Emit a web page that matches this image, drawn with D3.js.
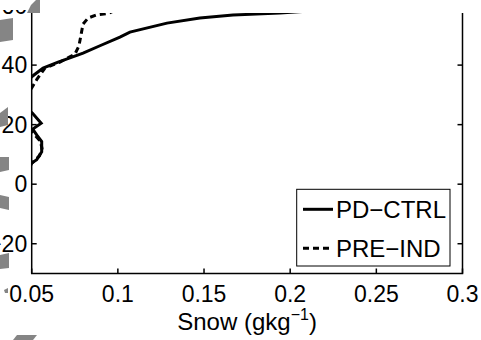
<!DOCTYPE html>
<html>
<head>
<meta charset="utf-8">
<script src="https://cdn.jsdelivr.net/npm/d3@7"></script>
<style>
    body { margin: 0; background: #fff; }
    svg { display: block; font-family: "Liberation Sans", Arial, sans-serif; }
</style>
</head>
<body>
<div id="chart-div"></div>
<script>
const seriesNames = ["PD\u2212CTRL", "PRE\u2212IND"];

// snow mixing ratio (g/kg) against height level
const pdSnow = [0.040, 0.043, 0.047, 0.0529, 0.0558, 0.0558, 0.053, 0.0506, 0.0555, 0.0505,
    0.046, 0.044, 0.048, 0.050, 0.0566, 0.0653, 0.0722, 0.0798, 0.0896, 0.1012, 0.107,
    0.1285, 0.1476, 0.1668, 0.194, 0.22];
const pdHeight = [-30, 0, 6, 8.2, 10.9, 14.3, 16.5, 18.5, 20.5, 23.8,
    26, 30, 34.5, 36.1, 39.0, 41.0, 42.4, 44.0, 46.5, 49.4, 51.1,
    54.1, 55.8, 56.8, 57.5, 58.5];

const piSnow = [0.040, 0.044, 0.050, 0.0545, 0.056, 0.055, 0.051, 0.046, 0.044, 0.047,
    0.050, 0.0531, 0.0577, 0.0664, 0.0751, 0.0774, 0.0786, 0.0798, 0.0827, 0.0873, 0.094, 0.099];
const piHeight = [-30, 0, 7, 9.5, 12, 14.5, 17, 20, 26, 30,
    32.3, 35.3, 39.0, 41.0, 43.7, 46.4, 50.1, 53.8, 55.8, 56.8, 57.3, 58.5];

const xTicks = [0.05, 0.1, 0.15, 0.2, 0.25, 0.3];
const xTickLabels = ["0.05", "0.1", "0.15", "0.2", "0.25", "0.3"];
const yTicks = [-20, 0, 20, 40, 60];
const yTickLabels = ["\u221220", "0", "20", "40", "60"];

function snowChart() {
    let width = 481,
        height = 340,
        margin = {left: 31.7, right: 18.5, top: 13, bottom: 66.5};

    function chart(selection) {
        const svg = selection.append("svg")
            .attr("width", width)
            .attr("height", height);

        const x = d3.scaleLinear()
            .domain([0.05, 0.3])
            .range([margin.left, width - margin.right]);

        const y = d3.scaleLinear()
            .domain([-30, 57.5])
            .range([height - margin.bottom, margin.top]);

        const [x0, x1] = x.range();
        const [y1, y0] = y.range();

        svg.append("clipPath").attr("id", "plot-clip")
            .append("rect")
            .attr("x", x0).attr("y", y0)
            .attr("width", x1 - x0).attr("height", y1 - y0);

        const line = d3.line()
            .x(d => x(d[0]))
            .y(d => y(d[1]));

        const series = [
            {name: seriesNames[0], dash: null, points: d3.zip(pdSnow, pdHeight)},
            {name: seriesNames[1], dash: "6,4", points: d3.zip(piSnow, piHeight)}
        ];

        svg.append("g")
            .attr("clip-path", "url(#plot-clip)")
            .selectAll("path")
            .data(series)
            .enter()
            .append("path")
            .attr("d", d => line(d.points))
            .attr("fill", "none")
            .attr("stroke", "#000")
            .attr("stroke-width", 3)
            .attr("stroke-dasharray", d => d.dash);

        // axes: left, right and bottom lines, ticks pointing inwards
        const axes = svg.append("g")
            .attr("stroke", "#000")
            .attr("stroke-width", 1.5)
            .attr("fill", "none");

        axes.append("path")
            .attr("d", `M${x0},${y0}V${y1}H${x1}V${y0}`);

        xTicks.forEach(t => {
            axes.append("line")
                .attr("x1", x(t)).attr("x2", x(t))
                .attr("y1", y1).attr("y2", y1 - 5);
        });

        yTicks.filter(t => t > y.domain()[0] && t < y.domain()[1]).forEach(t => {
            axes.append("line")
                .attr("x1", x0).attr("x2", x0 + 5)
                .attr("y1", y(t)).attr("y2", y(t));
            axes.append("line")
                .attr("x1", x1).attr("x2", x1 - 5)
                .attr("y1", y(t)).attr("y2", y(t));
        });

        svg.append("g")
            .selectAll("text")
            .data(xTicks)
            .enter()
            .append("text")
            .attr("x", d => x(d))
            .attr("y", y1 + 28.5)
            .attr("text-anchor", "middle")
            .attr("font-size", 23)
            .text((d, i) => xTickLabels[i]);

        svg.append("g")
            .selectAll("text")
            .data(yTicks)
            .enter()
            .append("text")
            .attr("x", x0 - 4.5)
            .attr("y", d => y(d))
            .attr("dy", "0.36em")
            .attr("text-anchor", "end")
            .attr("font-size", 23)
            .text((d, i) => yTickLabels[i]);

        // the top label is mostly hidden in the source image
        svg.append("rect")
            .attr("x", 0).attr("y", 0)
            .attr("width", x0 - 1).attr("height", 10)
            .attr("fill", "#fff");

        const title = svg.append("text")
            .attr("x", (x0 + x1) / 2)
            .attr("y", 330)
            .attr("text-anchor", "middle")
            .attr("font-size", 24);
        title.append("tspan").text("Snow (gkg");
        title.append("tspan").attr("font-size", 16).attr("dy", -10).text("\u22121");
        title.append("tspan").attr("dy", 10).text(")");

        // legend
        const legend = svg.append("g");
        legend.append("rect")
            .attr("x", 296.7).attr("y", 189.3)
            .attr("width", 153.3).attr("height", 76.7)
            .attr("fill", "#fff")
            .attr("stroke", "#000")
            .attr("stroke-width", 1);

        const rows = legend.selectAll("g.row")
            .data(series)
            .enter()
            .append("g")
            .attr("class", "row")
            .attr("transform", (d, i) => `translate(0, ${209.3 + i * 39})`);

        rows.append("line")
            .attr("x1", 303).attr("x2", 333)
            .attr("stroke", "#000")
            .attr("stroke-width", 3)
            .attr("stroke-dasharray", d => d.dash);

        rows.append("text")
            .attr("x", 336)
            .attr("dy", "0.36em")
            .attr("font-size", 24)
            .text(d => d.name);

        // grey fragments along the left edge
        const shards = [
            [[27, 13], [31, 5], [36, 0], [40, 0], [40, 13]],
            [[0, 20], [13, 18], [13, 40], [0, 42]],
            [[0, 113], [8, 107], [8, 125], [0, 127]],
            [[0, 157], [9, 157], [9, 170], [0, 172]],
            [[0, 195], [9, 197], [9, 210], [0, 208]],
            [[0, 255], [9, 253], [9, 268], [0, 269]],
            [[4, 290], [8, 288], [8, 293], [5, 293]],
            [[13, 340], [17, 335], [37, 335], [33, 340]]
        ];
        svg.append("g")
            .selectAll("path")
            .data(shards)
            .enter()
            .append("path")
            .attr("d", d => "M" + d.join("L") + "Z")
            .attr("fill", "#858585");
    }

    return chart;
}

d3.select("#chart-div").call(snowChart());
</script>
</body>
</html>
